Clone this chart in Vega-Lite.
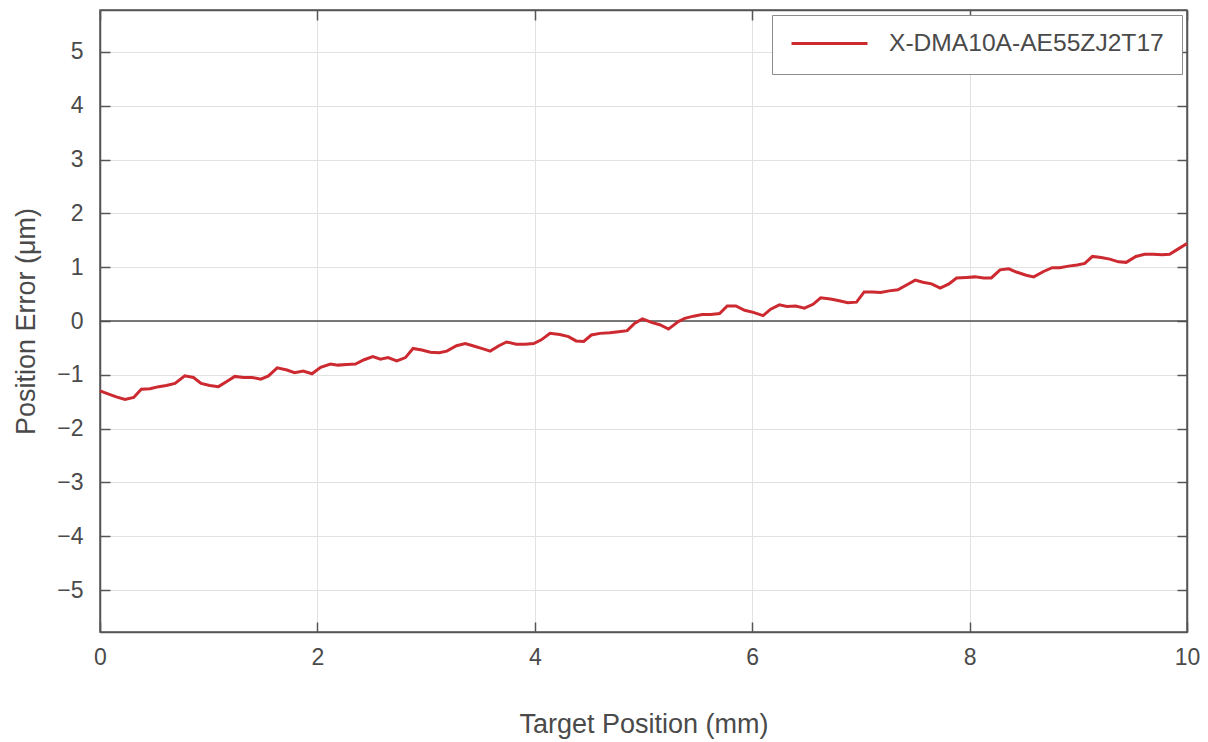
{
  "$schema": "https://vega.github.io/schema/vega-lite/v6.json",
  "width": 1087,
  "height": 622,
  "autosize": {"type": "none"},
  "padding": {"left": 100, "top": 10, "right": 21, "bottom": 110},
  "background": "white",
  "config": {
    "font": "Liberation Sans",
    "view": {"stroke": "#555555", "strokeWidth": 1.5},
    "axis": {
      "domainColor": "#555555",
      "domainWidth": 1.5,
      "tickColor": "#555555",
      "tickWidth": 1.5,
      "tickSize": -10,
      "gridColor": "#e2e2e2",
      "gridWidth": 1,
      "labelFlush": false,
      "labelFont": "Liberation Sans",
      "labelFontSize": 23,
      "labelColor": "#4a4a4a",
      "titleFont": "Liberation Sans",
      "titleFontSize": 27,
      "titleFontWeight": "normal",
      "titleColor": "#4a4a4a"
    }
  },
  "layer": [
    {
      "data": {"values": [{"zero": 0}]},
      "mark": {"type": "rule", "color": "#4d4d4d", "strokeWidth": 1.5},
      "encoding": {
        "y": {"field": "zero", "type": "quantitative", "scale": {"domain": [-5.78, 5.78], "nice": false, "zero": false}, "axis": null}
      }
    },
    {
      "data": {"name": "series"},
      "mark": {"type": "line", "strokeWidth": 3, "interpolate": "linear"},
      "encoding": {
        "x": {
          "field": "position", "type": "quantitative",
          "scale": {"domain": [0, 10], "nice": false, "zero": false},
          "axis": {"orient": "bottom", "values": [0, 2, 4, 6, 8, 10], "grid": true, "labelPadding": 24, "title": "Target Position (mm)", "titlePadding": 42}
        },
        "y": {
          "field": "error", "type": "quantitative",
          "scale": {"domain": [-5.78, 5.78], "nice": false, "zero": false},
          "axis": {"orient": "left", "values": [-5, -4, -3, -2, -1, 0, 1, 2, 3, 4, 5], "grid": true, "labelPadding": 27, "title": "Position Error (μm)", "titlePadding": 16}
        },
        "color": {
          "datum": "X-DMA10A-AE55ZJ2T17",
          "type": "nominal",
          "scale": {"range": ["#cc2a30"]},
          "legend": {
            "orient": "none", "legendX": 672, "legendY": 5,
            "title": null,
            "fillColor": "white", "strokeColor": "#8c8c8c",
            "padding": 18,
            "clipHeight": 21,
            "labelLimit": 600,
            "symbolType": "stroke", "symbolSize": 5776, "symbolStrokeWidth": 3,
            "labelFontSize": 24.6, "labelColor": "#4a4a4a", "labelOffset": 20,
            "labelFont": "Liberation Sans"
          }
        }
      }
    },
    {
      "data": {"name": "series"},
      "mark": {"type": "line", "strokeWidth": 3, "opacity": 0},
      "encoding": {
        "x": {
          "field": "position", "type": "quantitative",
          "scale": {"domain": [0, 10], "nice": false, "zero": false},
          "axis": {"orient": "top", "values": [0, 2, 4, 6, 8, 10], "grid": false, "labels": false, "title": null}
        },
        "y": {
          "field": "error", "type": "quantitative",
          "scale": {"domain": [-5.78, 5.78], "nice": false, "zero": false},
          "axis": {"orient": "right", "values": [-5, -4, -3, -2, -1, 0, 1, 2, 3, 4, 5], "grid": false, "labels": false, "title": null}
        }
      }
    }
  ],
  "resolve": {"axis": {"x": "independent", "y": "independent"}},
  "datasets": {
    "series": [
      {"position": 0.00, "error": -1.30},
      {"position": 0.08, "error": -1.36},
      {"position": 0.15, "error": -1.41},
      {"position": 0.23, "error": -1.46},
      {"position": 0.31, "error": -1.42},
      {"position": 0.38, "error": -1.27},
      {"position": 0.46, "error": -1.26},
      {"position": 0.54, "error": -1.22},
      {"position": 0.61, "error": -1.20},
      {"position": 0.69, "error": -1.16},
      {"position": 0.78, "error": -1.02},
      {"position": 0.86, "error": -1.05},
      {"position": 0.93, "error": -1.16},
      {"position": 1.01, "error": -1.20},
      {"position": 1.09, "error": -1.22},
      {"position": 1.17, "error": -1.12},
      {"position": 1.24, "error": -1.03},
      {"position": 1.32, "error": -1.05},
      {"position": 1.40, "error": -1.05},
      {"position": 1.48, "error": -1.08},
      {"position": 1.55, "error": -1.02},
      {"position": 1.63, "error": -0.87},
      {"position": 1.72, "error": -0.91},
      {"position": 1.79, "error": -0.96},
      {"position": 1.87, "error": -0.93},
      {"position": 1.95, "error": -0.98},
      {"position": 2.03, "error": -0.86},
      {"position": 2.12, "error": -0.80},
      {"position": 2.19, "error": -0.82},
      {"position": 2.27, "error": -0.81},
      {"position": 2.35, "error": -0.80},
      {"position": 2.43, "error": -0.72},
      {"position": 2.51, "error": -0.66},
      {"position": 2.58, "error": -0.71},
      {"position": 2.65, "error": -0.68},
      {"position": 2.73, "error": -0.74},
      {"position": 2.81, "error": -0.68},
      {"position": 2.88, "error": -0.51},
      {"position": 2.96, "error": -0.54},
      {"position": 3.04, "error": -0.58},
      {"position": 3.12, "error": -0.59},
      {"position": 3.19, "error": -0.56},
      {"position": 3.28, "error": -0.46},
      {"position": 3.36, "error": -0.42},
      {"position": 3.43, "error": -0.46},
      {"position": 3.51, "error": -0.51},
      {"position": 3.59, "error": -0.56},
      {"position": 3.67, "error": -0.46},
      {"position": 3.74, "error": -0.39},
      {"position": 3.83, "error": -0.43},
      {"position": 3.91, "error": -0.43},
      {"position": 3.99, "error": -0.42},
      {"position": 4.06, "error": -0.35},
      {"position": 4.14, "error": -0.23},
      {"position": 4.23, "error": -0.25},
      {"position": 4.31, "error": -0.29},
      {"position": 4.38, "error": -0.37},
      {"position": 4.45, "error": -0.38},
      {"position": 4.52, "error": -0.26},
      {"position": 4.60, "error": -0.23},
      {"position": 4.69, "error": -0.22},
      {"position": 4.77, "error": -0.20},
      {"position": 4.85, "error": -0.18},
      {"position": 4.92, "error": -0.04},
      {"position": 4.99, "error": 0.04},
      {"position": 5.08, "error": -0.03},
      {"position": 5.15, "error": -0.07},
      {"position": 5.23, "error": -0.15},
      {"position": 5.32, "error": -0.01},
      {"position": 5.38, "error": 0.05},
      {"position": 5.46, "error": 0.09},
      {"position": 5.54, "error": 0.12},
      {"position": 5.62, "error": 0.12},
      {"position": 5.70, "error": 0.14},
      {"position": 5.77, "error": 0.28},
      {"position": 5.85, "error": 0.28},
      {"position": 5.93, "error": 0.20},
      {"position": 6.01, "error": 0.16},
      {"position": 6.10, "error": 0.10},
      {"position": 6.17, "error": 0.22},
      {"position": 6.25, "error": 0.30},
      {"position": 6.32, "error": 0.27},
      {"position": 6.40, "error": 0.28},
      {"position": 6.48, "error": 0.24},
      {"position": 6.56, "error": 0.31},
      {"position": 6.63, "error": 0.43},
      {"position": 6.72, "error": 0.41},
      {"position": 6.79, "error": 0.38},
      {"position": 6.88, "error": 0.34},
      {"position": 6.96, "error": 0.35},
      {"position": 7.03, "error": 0.54},
      {"position": 7.11, "error": 0.54},
      {"position": 7.18, "error": 0.53},
      {"position": 7.26, "error": 0.56},
      {"position": 7.34, "error": 0.58},
      {"position": 7.42, "error": 0.67},
      {"position": 7.50, "error": 0.76},
      {"position": 7.57, "error": 0.72},
      {"position": 7.65, "error": 0.69},
      {"position": 7.73, "error": 0.61},
      {"position": 7.81, "error": 0.69},
      {"position": 7.88, "error": 0.80},
      {"position": 7.97, "error": 0.81},
      {"position": 8.05, "error": 0.82},
      {"position": 8.13, "error": 0.80},
      {"position": 8.20, "error": 0.80},
      {"position": 8.28, "error": 0.95},
      {"position": 8.36, "error": 0.97},
      {"position": 8.43, "error": 0.91},
      {"position": 8.52, "error": 0.85},
      {"position": 8.59, "error": 0.82},
      {"position": 8.68, "error": 0.92},
      {"position": 8.76, "error": 0.99},
      {"position": 8.83, "error": 0.99},
      {"position": 8.91, "error": 1.02},
      {"position": 8.99, "error": 1.04},
      {"position": 9.06, "error": 1.07},
      {"position": 9.13, "error": 1.20},
      {"position": 9.21, "error": 1.18},
      {"position": 9.29, "error": 1.15},
      {"position": 9.37, "error": 1.10},
      {"position": 9.44, "error": 1.09},
      {"position": 9.53, "error": 1.20},
      {"position": 9.61, "error": 1.24},
      {"position": 9.69, "error": 1.24},
      {"position": 9.77, "error": 1.23},
      {"position": 9.84, "error": 1.24},
      {"position": 9.92, "error": 1.34},
      {"position": 10.00, "error": 1.44}
    ]
  }
}
